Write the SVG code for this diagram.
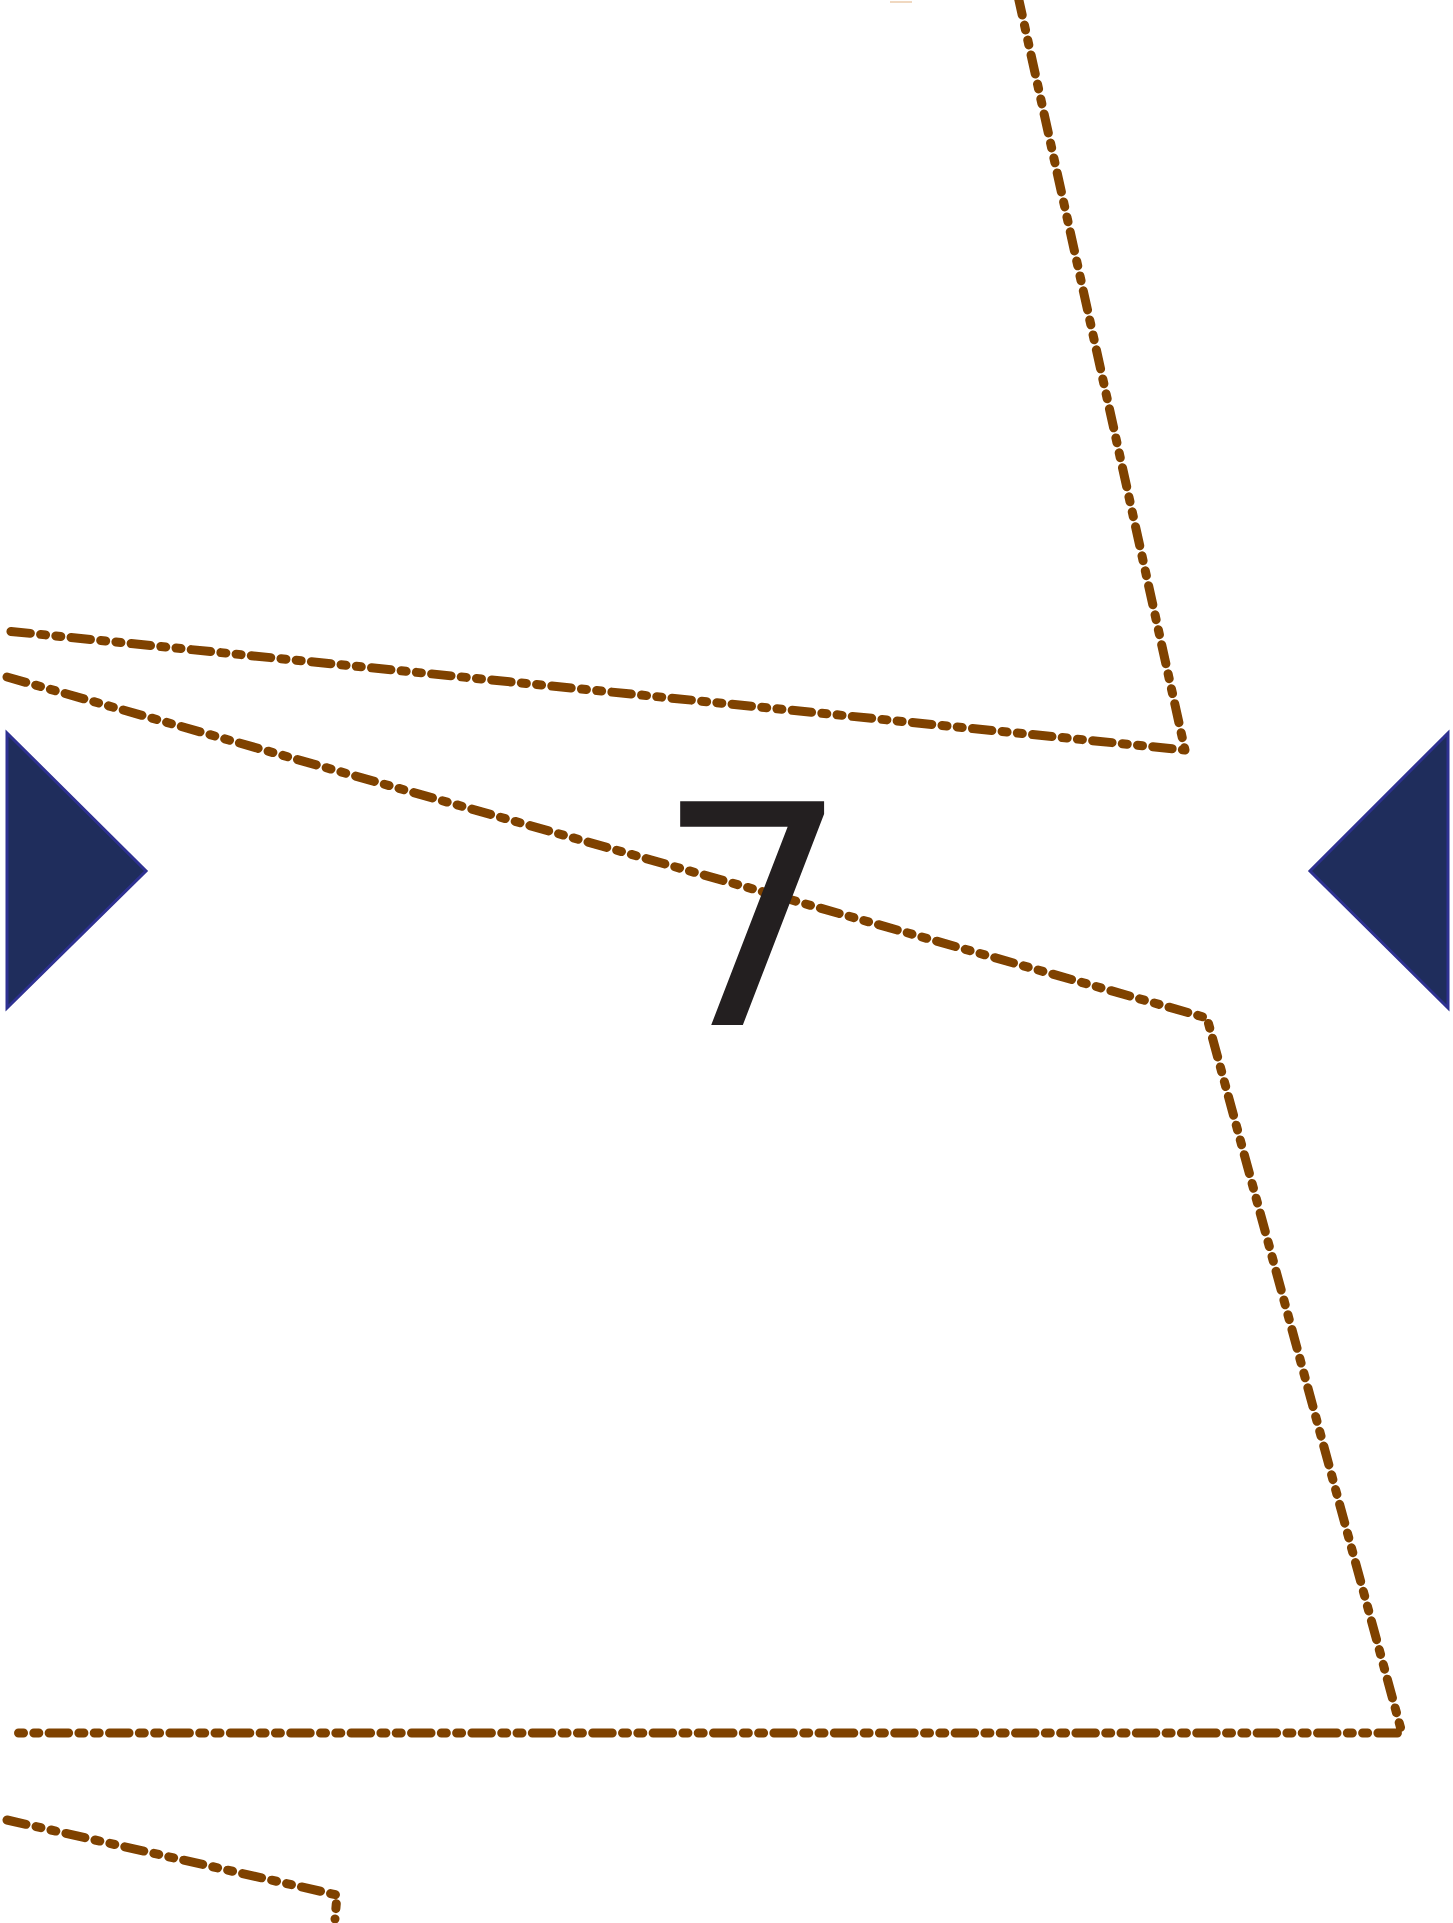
<svg xmlns="http://www.w3.org/2000/svg" width="1453" height="1923" viewBox="0 0 1453 1923">
<style>
.trail{fill:none;stroke:#7f4200;stroke-width:9;stroke-linecap:round;stroke-linejoin:round;stroke-dasharray:19.5 10.3 5 10.3 5 10.3}
.tri{fill:#1f2d5c;stroke:#2e3191;stroke-width:3;stroke-linejoin:miter}
.num{font-family:"DejaVu Sans",sans-serif;font-size:307px;fill:#231f20}
</style>
<rect width="1453" height="1923" fill="#ffffff"/>
<line x1="890" y1="2" x2="912" y2="2" stroke="#f0d8c0" stroke-width="2"/>
<g id="trails">
<path class="trail" d="M1018,-4 L1185,750 L7,631"/>
<path class="trail" d="M7,677 L1207,1018 L1402,1733 L9,1733"/>
<path class="trail" d="M7,1820 L337,1895 L335,1919"/>
</g>
<g id="marker-left"><polygon class="tri" points="7,733 146,871 7,1008"/></g>
<g id="marker-right"><polygon class="tri" points="1448,733 1310,871 1448,1008"/></g>
<g id="label"><text class="num" x="655" y="1025">7</text></g>
</svg>
